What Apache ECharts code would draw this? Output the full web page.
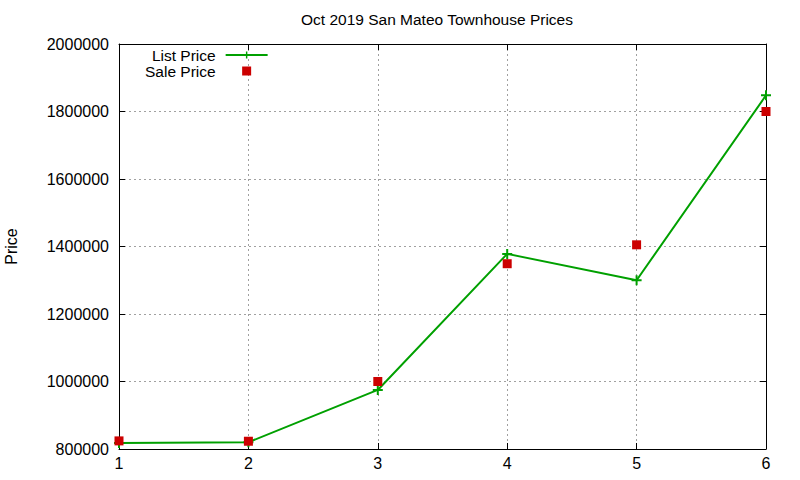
<!DOCTYPE html>
<html lang="en">
<head>
<meta charset="UTF-8">
<title>Oct 2019 San Mateo Townhouse Prices</title>
<script src="https://cdn.jsdelivr.net/npm/echarts@6/dist/echarts.min.js"></script>
<style>
  html, body { margin: 0; padding: 0; background: #fff; }
  #chart { width: 800px; height: 480px; }
</style>
</head>
<body>
<div id="chart"></div>
<script>
// data
var units = [1, 2, 3, 4, 5, 6];
var listPrice = [818000, 820000, 975000, 1378000, 1300000, 1848000];
var salePrice = [824000, 823000, 1000000, 1349000, 1405000, 1800000];
var yTicks = { min: 800000, max: 2000000, step: 200000 };

var FONT = 'Liberation Sans, Arial, sans-serif';
var plus = 'path://M4,0H6V4H10V6H6V10H4V6H0V4H4Z';
var square = 'path://M0,0H1V1H0Z';

function pairs(xs, ys) {
  return xs.map(function (x, i) { return [x, ys[i]]; });
}

var chart = echarts.init(document.getElementById('chart'), null, { renderer: 'svg' });

var gridLine = { show: true, lineStyle: { color: '#a0a0a0', width: 1, type: [2, 3] } };

chart.setOption({
  animation: false,
  backgroundColor: '#fff',
  title: {
    text: 'Oct 2019 San Mateo Townhouse Prices',
    left: 301, top: 11, padding: 0,
    textStyle: { fontFamily: FONT, fontSize: 15.5, fontWeight: 'normal', color: '#000' }
  },
  legend: {
    orient: 'vertical', align: 'right',
    left: 145, top: 47, padding: 0, itemGap: 0,
    itemWidth: 42, itemHeight: 9,
    textStyle: { fontFamily: FONT, fontSize: 15.5, color: '#000', lineHeight: 14, padding: [0, 5, 0, 0] },
    data: ['List Price', { name: 'Sale Price', icon: square }]
  },
  grid: { left: 119, right: 34, top: 44, bottom: 31, containLabel: false, outerBoundsMode: 'none' },
  xAxis: [{
    type: 'value', min: 1, max: 6, interval: 1,
    axisLine: { lineStyle: { color: '#000', width: 1 } },
    axisTick: { inside: true, length: 6, lineStyle: { color: '#000' } },
    axisLabel: { margin: 6, fontFamily: FONT, fontSize: 16, color: '#000' },
    splitLine: gridLine
  }, {
    type: 'value', position: 'top', min: 1, max: 6, interval: 1,
    axisLine: { lineStyle: { color: '#000', width: 1 } },
    axisTick: { inside: true, length: 6, lineStyle: { color: '#000' } },
    axisLabel: { show: false }, splitLine: { show: false }
  }],
  yAxis: [{
    type: 'value', min: yTicks.min, max: yTicks.max, interval: yTicks.step,
    name: 'Price', nameLocation: 'middle', nameGap: 100,
    nameTextStyle: { fontFamily: FONT, fontSize: 16, color: '#000' },
    axisLine: { show: true, lineStyle: { color: '#000', width: 1 } },
    axisTick: { show: true, inside: true, length: 6, lineStyle: { color: '#000' } },
    axisLabel: { margin: 10, fontFamily: FONT, fontSize: 16, color: '#000',
      formatter: function (v) { return String(v); } },
    splitLine: gridLine
  }, {
    type: 'value', position: 'right', min: yTicks.min, max: yTicks.max, interval: yTicks.step,
    axisLine: { show: true, lineStyle: { color: '#000', width: 1 } },
    axisTick: { show: true, inside: true, length: 6, lineStyle: { color: '#000' } },
    axisLabel: { show: false }, splitLine: { show: false }
  }],
  series: [{
    name: 'List Price', type: 'line',
    data: pairs(units, listPrice),
    symbol: plus, symbolSize: 10, showSymbol: true,
    itemStyle: { color: '#00a000' },
    lineStyle: { color: '#00a000', width: 2 }
  }, {
    name: 'Sale Price', type: 'scatter',
    data: pairs(units, salePrice),
    symbol: 'rect', symbolSize: 9,
    itemStyle: { color: '#cc0000', opacity: 1 },
    z: 3
  }]
});
</script>
</body>
</html>
